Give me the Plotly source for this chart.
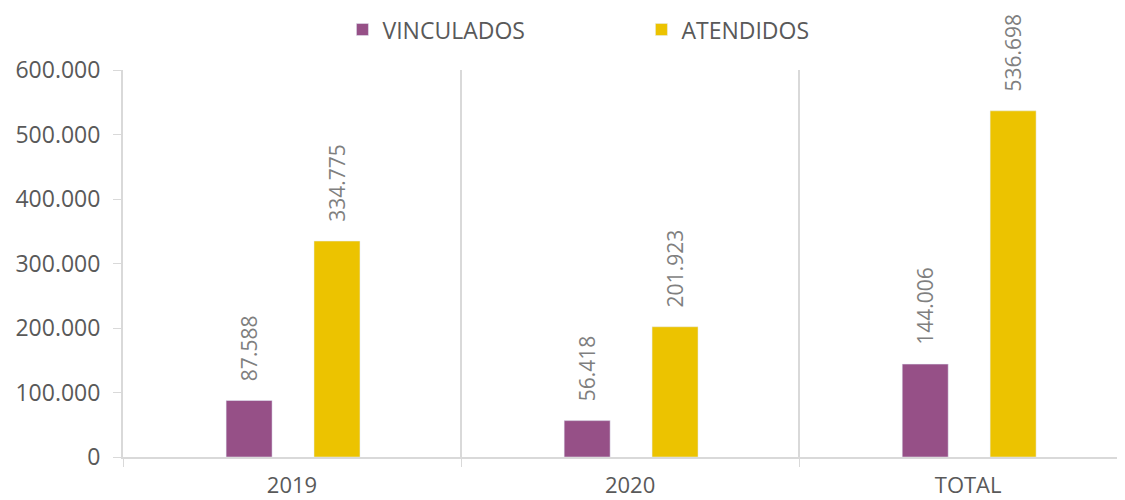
import plotly.graph_objects as go

categorias = ["2019", "2020", "TOTAL"]
vinculados = [87588, 56418, 144006]
atendidos = [334775, 201923, 536698]

morado = "#965087"
amarillo = "#ECC300"
gris_texto = "#595959"
gris_linea = "#D9D9D9"

xs = list(range(len(categorias)))
ancho = 0.136

fig = go.Figure()

for nombre, valores, color, desplaz in [("VINCULADOS", vinculados, morado, -0.195),
                                         ("ATENDIDOS", atendidos, amarillo, 0.065)]:
    fig.add_trace(go.Bar(
        x=xs, y=valores, name=nombre,
        marker=dict(color=color), width=ancho, offset=desplaz,
        texttemplate="\u00a0\u00a0\u00a0%{y:,}", textposition="outside", textangle=-90,
        constraintext="none", cliponaxis=False,
        textfont=dict(color="#7F7F7F", size=21),
    ))

# eje auxiliar solo para las etiquetas de categoría
fig.add_trace(go.Scatter(x=xs, y=[0] * len(xs), xaxis="x2", mode="markers",
                         marker=dict(opacity=0), showlegend=False, hoverinfo="skip"))

rango_x = [-0.5, 2.464]

fig.update_layout(
    width=1117, height=492,
    separators=",.",
    plot_bgcolor="white", paper_bgcolor="white",
    font=dict(family="Open Sans, sans-serif", size=22, color=gris_texto),
    margin=dict(l=115, r=0, t=62, b=43, autoexpand=False),
    barmode="overlay",
    showlegend=True,
    legend=dict(orientation="h", x=0.219, xref="paper", y=1.16, yanchor="top",
                font=dict(size=23, color=gris_texto),
                entrywidth=254, entrywidthmode="pixels", itemwidth=30),
    xaxis=dict(range=rango_x, tickvals=[-0.5, 0.5, 1.5, 2.5], ticktext=["", "", "", ""],
               showgrid=True, gridcolor=gris_linea, gridwidth=1.5,
               showline=True, linecolor=gris_linea, linewidth=2,
               ticks="outside", ticklen=8, tickcolor=gris_linea, zeroline=False),
    xaxis2=dict(range=rango_x, overlaying="x", side="bottom", tickvals=xs,
                ticktext=categorias, showgrid=False, showline=False, zeroline=False,
                ticks="", ticklabelstandoff=13, tickfont=dict(size=22, color=gris_texto)),
    yaxis=dict(range=[0, 600000], tickvals=[0, 100000, 200000, 300000, 400000, 500000, 600000],
               tickformat=",d", showgrid=False, zeroline=False,
               showline=True, linecolor=gris_linea, linewidth=2,
               ticks="outside", ticklen=8, tickcolor=gris_linea, ticklabelstandoff=8,
               tickfont=dict(size=23, color=gris_texto)),
)

fig.write_html("out.html")
